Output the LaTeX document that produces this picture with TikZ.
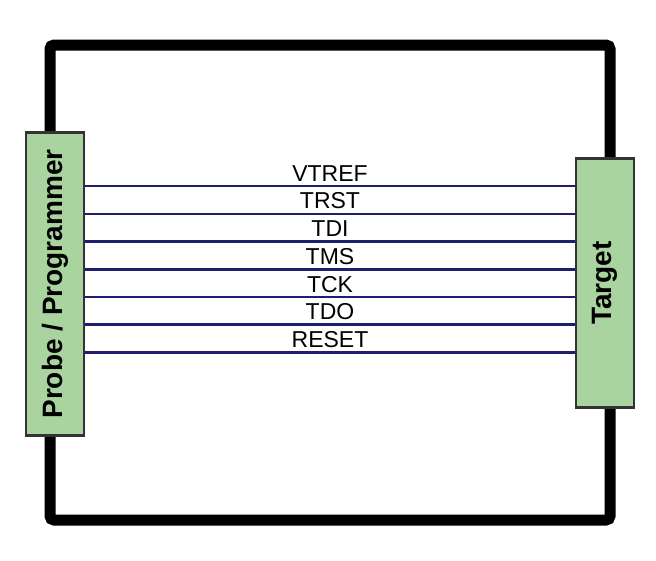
\documentclass[tikz,border=0pt]{standalone}
\usepackage{fontspec}
\setmainfont{Liberation Sans}
\usetikzlibrary{positioning}
\definecolor{boxgreen}{RGB}{169,212,160}
\definecolor{wirenavy}{RGB}{30,30,110}
\tikzset{
    pin box/.style={draw=black!80, line width=2.5pt, fill=boxgreen, minimum width=58pt, inner sep=0pt},
    wire/.style={wirenavy, line width=2.5pt},
    signal/.style={font=\fontsize{23}{25}\selectfont, inner sep=0pt, anchor=base}
}
\begin{document}
\begin{tikzpicture}[x=1pt,y=-1pt]
    \useasboundingbox (0,0) rectangle (656,560);
    % outer board
    \draw[line width=11pt, rounded corners=4pt] (50,45) rectangle (610,520);
    % end points
    \node[pin box, minimum height=303pt] (probe) at (55,284)
        {\rotatebox{90}{\fontsize{28}{30}\selectfont\bfseries Probe / Programmer}};
    \node[pin box, minimum height=249pt] (target) at (605,283)
        {\rotatebox{90}{\fontsize{28}{30}\selectfont\bfseries Target}};
    % signals
    \foreach \sig [count=\i] in {VTREF,TRST,TDI,TMS,TCK,TDO,RESET} {
        \coordinate (a\i) at (probe.east |- 0,{158.5+27.7*\i});
        \coordinate (b\i) at (target.west |- 0,{158.5+27.7*\i});
        \draw[wire] (a\i) -- (b\i);
        \node[signal] at (330,{158.5+27.7*\i-5}) {\sig};
    }
\end{tikzpicture}
\end{document}
